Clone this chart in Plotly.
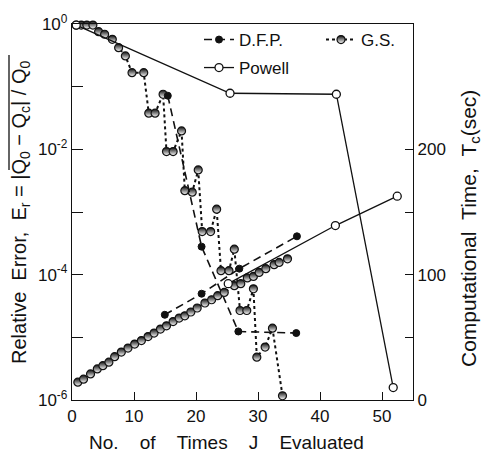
import plotly.graph_objects as go

# ---- data ----
gs_err_j = [0.68, 1.49, 2.39, 3.37, 4.29, 5.26, 6.50, 7.52, 8.61, 9.68, 11.57, 12.38, 13.40, 14.69,
            15.24, 16.31, 17.67, 18.20, 19.39, 20.36, 21.0, 22.36, 23.33, 24.03, 25.32, 26.18,
            27.10, 28.19, 29.26, 29.81, 31.15, 32.33, 33.95]
gs_err = [0.96, 0.96, 0.96, 0.96, 0.753, 0.686, 0.570, 0.419, 0.309, 0.167, 0.167, 0.0377, 0.0377,
          0.0757, 9.2e-3, 9.2e-3, 0.0197, 2.19e-3, 2.07e-3, 4.69e-3, 4.87e-4, 4.87e-4, 1.11e-3,
          1.16e-4, 1.16e-4, 2.55e-4, 2.68e-5, 2.68e-5, 5.94e-5, 4.83e-6, 6.98e-6, 1.40e-5, 1.17e-6]

gs_t_j = [0.94, 1.86, 2.99, 4.08, 4.98, 5.95, 6.88, 7.96, 9.03, 10.11, 11.2, 12.27, 13.24, 14.27,
          15.24, 16.31, 17.28, 18.2, 19.17, 20.19, 21.44, 22.52, 23.5, 24.56, 26.18, 27.22, 28.28,
          29.26, 30.18, 31.26, 32.6, 33.41, 34.76]
gs_t = [14.2, 16.6, 20.8, 24.8, 27.4, 30.2, 34.6, 38.2, 41.4, 44.6, 47.4, 50.6, 53.4, 56.6, 59.2,
        62.6, 65.4, 67.2, 70.2, 73.4, 77.4, 80, 83.2, 85.8, 91.2, 92.8, 97.4, 98.6, 101.8, 104.8,
        108, 109.8, 112.6]

dfp_err_j = [15.45, 20.9, 26.83, 36.17]
dfp_err = [0.0718, 2.8e-4, 1.24e-5, 1.17e-5]
dfp_t_j = [14.97, 20.9, 26.99, 36.28]
dfp_t = [68, 84.8, 104.8, 130.6]

pow_err_j = [0.68, 25.49, 42.64, 51.81]
pow_err = [0.96, 0.0785, 0.0757, 1.58e-6]
pow_t_j = [25.2, 42.48, 52.46]
pow_t = [92.8, 139.2, 162.6]

x_ticks = [0, 10, 20, 30, 40, 50]
y_ticks = [1e-6, 1e-4, 1e-2, 1e0]
y_ticktext = ["10<sup>-6</sup>", "10<sup>-4</sup>", "10<sup>-2</sup>", "10<sup>0</sup>"]
y_minor_ticks = [1e-5, 1e-3, 1e-1]
y2_ticks = [0, 100, 200]
y2_ticktext = ["0", "100", "200"]
y2_minor_ticks = [50, 150]

FONT = "Liberation Sans"
BLACK = "#111"
NB = "\u00a0"

# half-filled look for G.S.: white top fading to black bottom
gs_marker = dict(symbol="circle", size=8, color=BLACK, line=dict(color=BLACK, width=1.2),
                 gradient=dict(type="vertical", color="white"))
dfp_marker = dict(symbol="circle", size=7, color=BLACK, line=dict(color=BLACK, width=1))
pow_marker = dict(symbol="circle", size=8, color="white", line=dict(color=BLACK, width=1.3))

fig = go.Figure()

# G.S.
fig.add_trace(go.Scatter(x=gs_t_j, y=gs_t, yaxis="y2", mode="lines+markers",
                         line=dict(color=BLACK, width=2, dash="dot"), marker=gs_marker,
                         showlegend=False, cliponaxis=False))
fig.add_trace(go.Scatter(x=gs_err_j, y=gs_err, mode="lines+markers", name="G.S.",
                         line=dict(color=BLACK, width=2, dash="dot"), marker=gs_marker,
                         legend="legend2", cliponaxis=False))
# D.F.P.
fig.add_trace(go.Scatter(x=dfp_t_j, y=dfp_t, yaxis="y2", mode="lines+markers",
                         line=dict(color=BLACK, width=1.6, dash="8px,5px"), marker=dfp_marker,
                         showlegend=False, cliponaxis=False))
fig.add_trace(go.Scatter(x=dfp_err_j, y=dfp_err, mode="lines+markers", name="D.F.P.",
                         line=dict(color=BLACK, width=1.6, dash="8px,5px"), marker=dfp_marker,
                         legend="legend", cliponaxis=False))
# Powell
fig.add_trace(go.Scatter(x=pow_t_j, y=pow_t, yaxis="y2", mode="lines+markers",
                         line=dict(color=BLACK, width=1.3), marker=pow_marker,
                         showlegend=False, cliponaxis=False))
fig.add_trace(go.Scatter(x=pow_err_j, y=pow_err, mode="lines+markers", name="Powell",
                         line=dict(color=BLACK, width=1.3), marker=pow_marker,
                         legend="legend3", cliponaxis=False))

axis_common = dict(showgrid=False, zeroline=False, showline=True, linecolor=BLACK, linewidth=1.3,
                   ticks="inside", tickcolor=BLACK, tickwidth=1.3,
                   tickfont=dict(family=FONT, size=17, color=BLACK))

leg_common = dict(orientation="h", xanchor="left", yanchor="top", bgcolor="rgba(0,0,0,0)",
                  font=dict(family=FONT, size=17, color=BLACK))

fig.update_layout(
    width=482, height=452,
    margin=dict(l=72, r=69, t=24, b=52),
    paper_bgcolor="white", plot_bgcolor="white",
    font=dict(family=FONT, color=BLACK),
    xaxis=dict(range=[0, 55], tickvals=x_ticks, ticklen=8, mirror=True, **axis_common),
    yaxis=dict(type="log", range=[-6, 0], tickvals=y_ticks, ticktext=y_ticktext, ticklen=11,
               minor=dict(tickmode="array", tickvals=y_minor_ticks, ticks="inside", ticklen=11,
                          tickwidth=1.3, tickcolor=BLACK, showgrid=False),
               **axis_common),
    yaxis2=dict(overlaying="y", side="right", range=[0, 300], tickvals=y2_ticks,
                ticktext=y2_ticktext, ticklen=8,
                minor=dict(tickmode="array", tickvals=y2_minor_ticks, ticks="inside", ticklen=8,
                           tickwidth=1.3, tickcolor=BLACK, showgrid=False),
                **axis_common),
    legend=dict(x=(199 - 72) / 341, y=(400 - 22) / 376, **leg_common),
    legend2=dict(x=(321 - 72) / 341, y=(400 - 22) / 376, **leg_common),
    legend3=dict(x=(199 - 72) / 341, y=(400 - 50) / 376, **leg_common),
    annotations=[
        dict(text=(NB * 4).join(["No.", "of", "Times", "J", "Evaluated"]),
             xref="paper", yref="paper", x=(226 - 72) / 341, y=(400 - 442) / 376,
             xanchor="center", yanchor="middle", showarrow=False,
             font=dict(family=FONT, size=19, color=BLACK)),
        dict(text="Relative" + NB * 2 + "Error," + NB * 2 + "E<sub>r</sub>" + NB + "=" + NB +
                  "|Q<sub>0</sub>" + NB + "\u2212" + NB + "Q<sub>c</sub>|" + NB + "/" + NB + "Q<sub>0</sub>",
             xref="paper", yref="paper", x=(20 - 72) / 341, y=(400 - 212) / 376,
             xanchor="center", yanchor="middle", textangle=-90, showarrow=False,
             font=dict(family=FONT, size=20, color=BLACK)),
        dict(text="Computational" + NB * 2 + "Time," + NB * 2 + "T<sub>c</sub>(sec)",
             xref="paper", yref="paper", x=(470 - 72) / 341, y=(400 - 229) / 376,
             xanchor="center", yanchor="middle", textangle=-90, showarrow=False,
             font=dict(family=FONT, size=21, color=BLACK)),
    ],
    shapes=[
        dict(type="line", xref="paper", yref="paper",
             x0=(9 - 72) / 341, x1=(9 - 72) / 341,
             y0=(400 - 55) / 376, y1=(400 - 170) / 376,
             line=dict(color=BLACK, width=1.3)),
    ],
)

fig.write_html("out.html")
